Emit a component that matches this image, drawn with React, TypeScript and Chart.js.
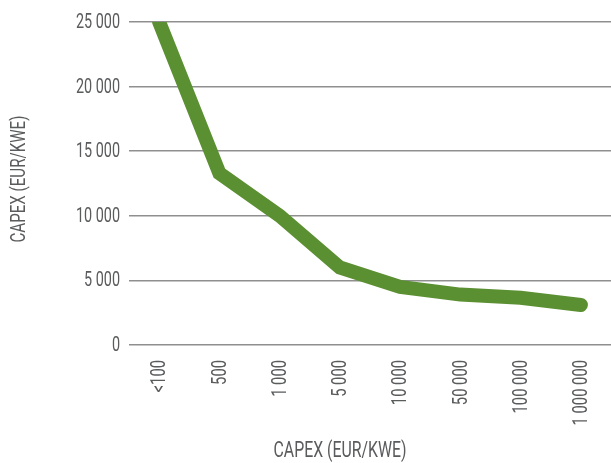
import React, { useEffect, useRef } from "react";
import { Chart, registerables } from "chart.js";

Chart.register(...registerables);

const categories: string[] = ["<100", "500", "1 000", "5 000", "10 000", "50 000", "100 000", "1 000 000"];
const capexValues: number[] = [25000, 13300, 10000, 6000, 4500, 3900, 3650, 3100];
const yTicks: number[] = [0, 5000, 10000, 15000, 20000, 25000];
const xAxisTitle = "CAPEX (EUR/KWE)";
const yAxisTitle = "CAPEX (EUR/KWE)";

const FONT = "Roboto, 'Liberation Sans', sans-serif";
const TEXT = "#5a5b5d";
const SX = 0.72; // horizontal condensing to mimic a condensed typeface

function fmt(v: number): string {
  return String(v).replace(/\B(?=(\d{3})+(?!\d))/g, " ");
}

function drawCondensed(
  ctx: CanvasRenderingContext2D,
  text: string,
  x: number,
  y: number,
  rot: number,
  align: CanvasTextAlign,
  size: number
) {
  ctx.save();
  ctx.translate(x, y);
  ctx.rotate(rot);
  ctx.scale(SX, 1);
  ctx.font = `400 ${size}px ${FONT}`;
  ctx.fillStyle = TEXT;
  ctx.textAlign = align;
  ctx.textBaseline = "middle";
  ctx.fillText(text, 0, 0);
  ctx.restore();
}

const condensedText = {
  id: "condensedText",
  afterDraw(chart: any) {
    const ctx = chart.ctx as CanvasRenderingContext2D;
    const area = chart.chartArea;
    const xs = chart.scales.x;
    const ys = chart.scales.y;
    // y tick labels
    yTicks.forEach((v) => {
      drawCondensed(ctx, fmt(v), area.left - 9, ys.getPixelForValue(v) + 1, 0, "right", 20);
    });
    // x tick labels (rotated, reading bottom to top)
    categories.forEach((c, i) => {
      drawCondensed(ctx, c, xs.getPixelForValue(i) + 1, area.bottom + 15, -Math.PI / 2, "right", 20.5);
    });
    // axis titles
    drawCondensed(ctx, xAxisTitle, 340, 451, 0, "center", 22);
    drawCondensed(ctx, yAxisTitle, 20, 179, -Math.PI / 2, "center", 21);
  },
};

export default function App() {
  const ref = useRef<HTMLCanvasElement | null>(null);
  useEffect(() => {
    document.body.style.margin = "0";
    if (!ref.current) return;
    const chart = new Chart(ref.current, {
      type: "line",
      data: {
        labels: categories,
        datasets: [
          {
            data: capexValues,
            borderColor: "#5b9032",
            backgroundColor: "#5b9032",
            borderWidth: 14,
            borderCapStyle: "round",
            borderJoinStyle: "miter",
            tension: 0,
            pointRadius: 0,
            fill: false,
          },
        ],
      },
      options: {
        responsive: false,
        animation: false,
        layout: { padding: { top: 22, right: 0, left: 0, bottom: 0 } },
        plugins: { legend: { display: false }, tooltip: { enabled: false } },
        scales: {
          x: {
            offset: true,
            grid: { display: false, drawTicks: false },
            border: { display: false },
            ticks: { display: false, autoSkip: false },
            title: { display: false },
            afterFit: (s: any) => {
              s.height = 118;
            },
          },
          y: {
            min: 0,
            max: 25000,
            afterBuildTicks: (s: any) => {
              s.ticks = yTicks.map((v) => ({ value: v }));
            },
            grid: { color: "#8f8f8f", lineWidth: 1.5, drawTicks: false },
            border: { display: false },
            ticks: { display: false },
            title: { display: false },
            afterFit: (s: any) => {
              s.width = 129;
            },
          },
        },
      },
      plugins: [condensedText],
    });
    return () => chart.destroy();
  }, []);
  return (
    <div style={{ width: 611, height: 463 }}>
      <canvas ref={ref} width={611} height={463} style={{ display: "block" }} />
    </div>
  );
}
